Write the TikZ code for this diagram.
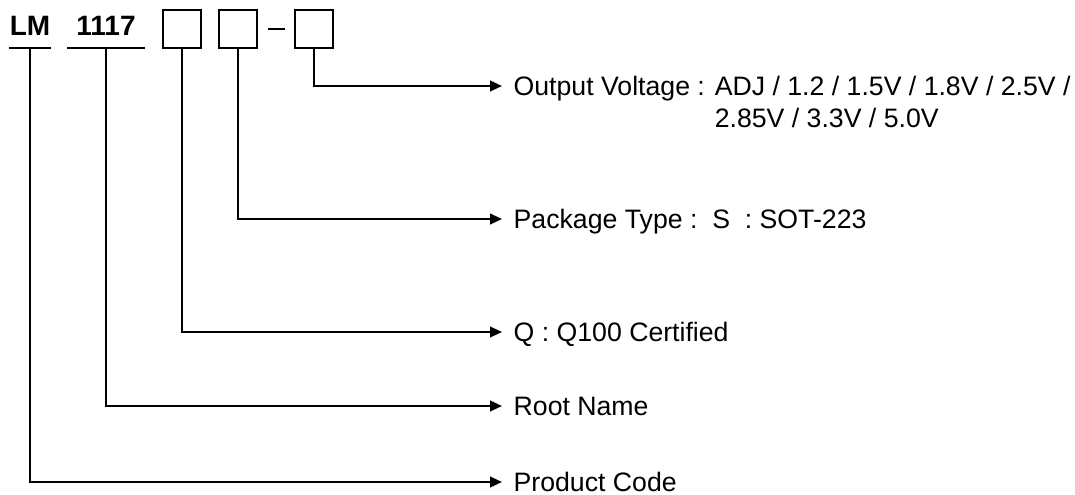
\documentclass[tikz,border=0pt]{standalone}
\usepackage{fontspec}
\setmainfont{Liberation Sans}
\usetikzlibrary{arrows.meta}
\begin{document}
\begin{tikzpicture}[x=0.75pt,y=-0.75pt,line width=1.5pt,
  every node/.style={font=\fontsize{20}{24}\selectfont},
  code/.style={font=\bfseries\fontsize{21}{24}\selectfont,anchor=south,inner xsep=0pt,inner ysep=8.25pt,text depth=0pt},
  box/.style={rectangle,draw,line width=1.5pt,minimum size=28.5pt,inner sep=0pt},
  lbl/.style={anchor=west,inner xsep=8pt,inner ysep=0pt,text height=14.3pt,text depth=0pt},
  arr/.style={-{Triangle[length=9pt,width=8pt]}}]
\useasboundingbox (0,0) rectangle (1075,495);
\node (lm) [code,minimum width=30pt] at (30,48) {LM};
\node (num) [code,minimum width=57pt] at (106,48) {1117};
\node (b1) [box] at (181.7,29) {};
\node (b2) [box] at (238,29) {};
\node (b3) [box] at (313.5,29) {};
\node (ov) [lbl] at (502,86) {Output Voltage : ADJ / 1.2 / 1.5V / 1.8V / 2.5V /};
\node (ov2) [lbl,anchor=base west] at ([yshift=-24pt]ov.base west) {\phantom{Output Voltage : }2.85V / 3.3V / 5.0V};
\node (pt) [lbl] at (502,219) {Package Type :\ \ S\ \ : SOT-223};
\node (qc) [lbl] at (502,332) {Q : Q100 Certified};
\node (rn) [lbl] at (502,406) {Root Name};
\node (pc) [lbl] at (502,482) {Product Code};
\draw (lm.south west) -- (lm.south east);
\draw (num.south west) -- (num.south east);
\draw (b2.east) ++(10,0) -- ++(17,0);

\draw [arr] (b3.south) |- (ov.west);
\draw [arr] (b2.south) |- (pt.west);
\draw [arr] (b1.south) |- (qc.west);
\draw [arr] (num.south) |- (rn.west);
\draw [arr] (lm.south) |- (pc.west);
\end{tikzpicture}
\end{document}
